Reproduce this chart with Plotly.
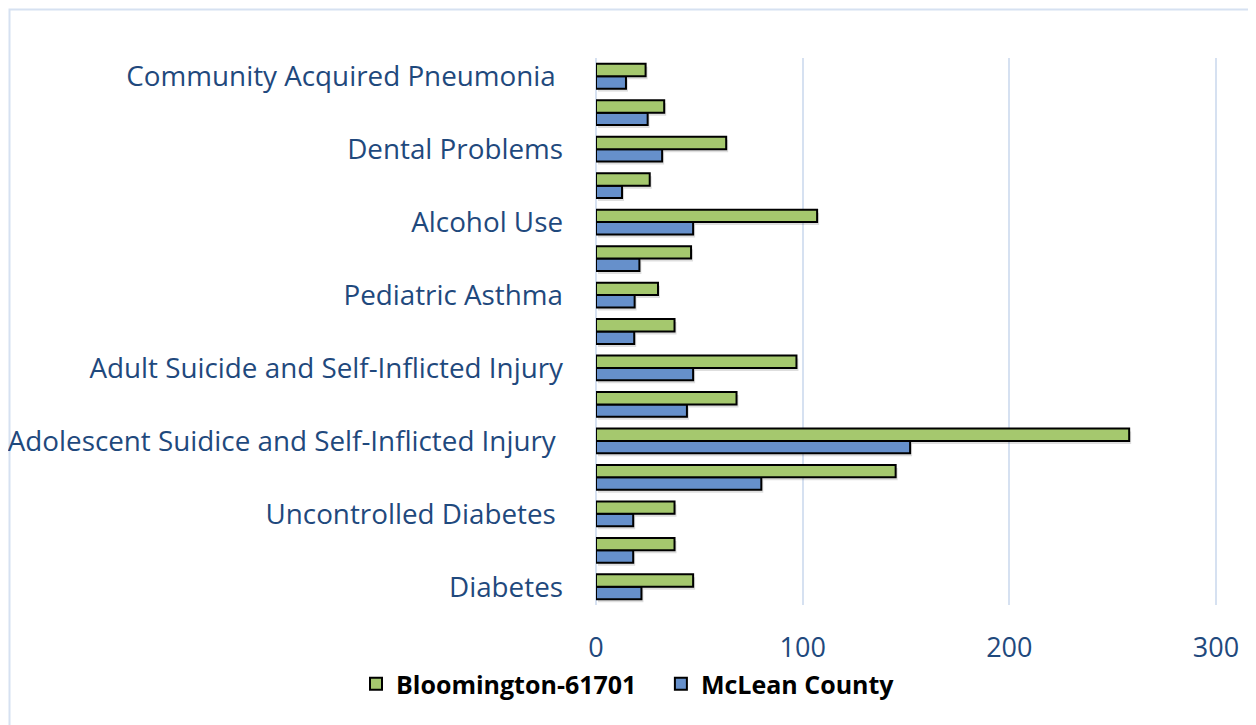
import plotly.graph_objects as go

# categories listed bottom -> top
labels = ["Diabetes", "", "Uncontrolled Diabetes\u00a0", "",
          "Adolescent Suidice and Self-Inflicted Injury\u00a0", "",
          "Adult Suicide and Self-Inflicted Injury", "",
          "Pediatric Asthma", "", "Alcohol Use", "",
          "Dental Problems", "", "Community Acquired Pneumonia\u00a0"]
positions = list(range(len(labels)))
bloomington = [47, 38, 38, 145, 258, 68, 97, 38, 30, 46, 107, 26, 63, 33, 24]
mclean = [22, 18, 18, 80, 152, 44, 47, 18.5, 18.7, 21, 47, 12.6, 32, 25, 14.5]
x_ticks = [0, 100, 200, 300]

GREEN = "#A5C86E"
BLUE = "#6690CB"
TEXT = "#1F497D"
GRID = "#D6E1F1"
SHADOW = "rgba(0,0,0,0.13)"

# page has an 8px body margin, so work in shifted pixel coordinates
OFF = 8
W, H = 1256, 725
L, R, T, B = 596 - OFF, 1217 - OFF, 58 - OFF, 605 - OFF
XMAX = 300.5
def px2x(p):
    return (p - OFF - L) / (R - L)
def py2y(p):
    return (B - (p - OFF)) / (B - T)

n = len(labels)
dx = 2 * XMAX / (R - L)          # 2px right
dy = 3 * n / (B - T)             # 3px down

fig = go.Figure()
# soft shadows on base axes
for vals in (mclean, bloomington):
    fig.add_trace(go.Bar(y=positions, x=vals, orientation="h", showlegend=False,
                         marker=dict(color=SHADOW, line=dict(width=0)),
                         hoverinfo="skip", xaxis="x", yaxis="y"))
fig.add_trace(go.Bar(y=positions, x=mclean, orientation="h", name="McLean County",
                     marker=dict(color=BLUE, line=dict(color="black", width=2)),
                     legendrank=2, xaxis="x2", yaxis="y2"))
fig.add_trace(go.Bar(y=positions, x=bloomington, orientation="h",
                     name="Bloomington-61701\u00a0\u00a0\u00a0",
                     marker=dict(color=GREEN, line=dict(color="black", width=2)),
                     legendrank=1, xaxis="x2", yaxis="y2"))

fig.update_layout(
    width=W, height=H,
    margin=dict(l=L, r=W - R, t=T, b=H - B, pad=0, autoexpand=False),
    paper_bgcolor="white", plot_bgcolor="white",
    barmode="group", bargap=0.32, bargroupgap=0,
    font=dict(family="Open Sans", color=TEXT, size=27),
    xaxis=dict(range=[-dx, XMAX - dx], showgrid=False, zeroline=False, showline=False,
               showticklabels=False, ticks="", automargin=False),
    yaxis=dict(range=[-0.5 + dy, n - 0.5 + dy], showgrid=False, zeroline=False,
               showline=False, showticklabels=False, ticks="", automargin=False),
    xaxis2=dict(overlaying="x", anchor="y2", range=[0, XMAX], tickvals=x_ticks, side="bottom",
                showgrid=True, gridcolor=GRID, gridwidth=2, automargin=False,
                zeroline=True, zerolinecolor=GRID, zerolinewidth=2, showline=False,
                ticks="", ticklabelstandoff=24, tickfont=dict(size=27, color=TEXT)),
    yaxis2=dict(overlaying="y", anchor="x2", range=[-0.5, n - 0.5], tickvals=positions,
                ticktext=labels, side="left", automargin=False,
                showgrid=False, zeroline=False, showline=False, ticks="",
                ticklabelstandoff=32, tickfont=dict(size=27.8, color=TEXT)),
    legend=dict(orientation="h", x=px2x(356), xanchor="left", y=py2y(684), yanchor="middle",
                font=dict(family="Open Sans", size=25, color="black", weight="bold"),
                bgcolor="rgba(0,0,0,0)", itemwidth=30),
    showlegend=True,
    shapes=[dict(type="rect", xref="paper", yref="paper",
                 x0=px2x(9.5), x1=px2x(1280), y0=py2y(760), y1=py2y(9.5),
                 line=dict(color="#D6E1F1", width=2), fillcolor="rgba(0,0,0,0)", layer="below")],
)

fig.write_html("out.html")
